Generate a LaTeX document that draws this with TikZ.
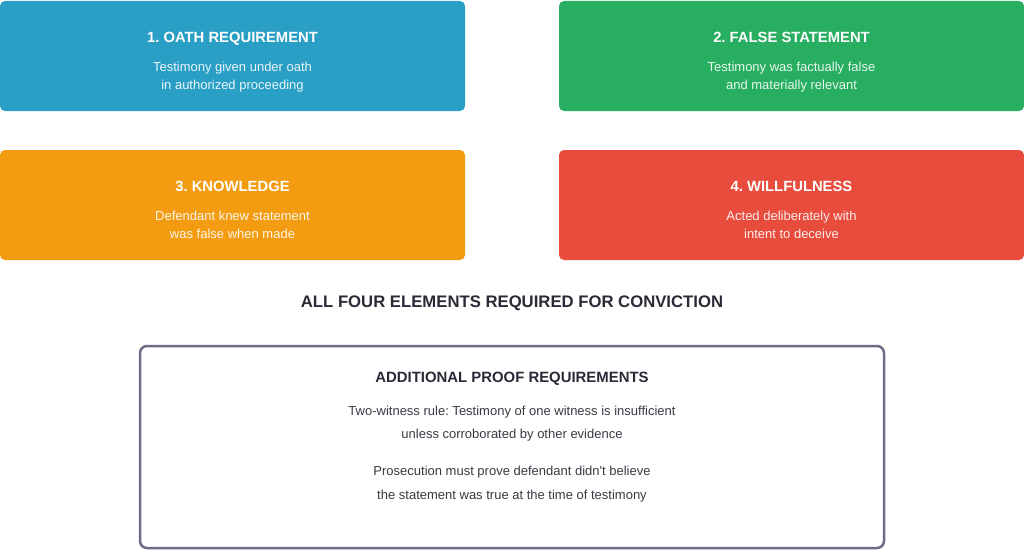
\documentclass[tikz,border=0pt]{standalone}
\usepackage{fontspec}
\setmainfont{Liberation Sans}
\usepackage{xcolor}
\usetikzlibrary{calc}
\definecolor{blue1}{HTML}{2A9FC6}
\definecolor{green1}{HTML}{27AE60}
\definecolor{orange1}{HTML}{F39C12}
\definecolor{red1}{HTML}{E74C3C}
\definecolor{gray1}{HTML}{6C6E88}
\definecolor{ink1}{HTML}{2A2A36}
\definecolor{ink2}{HTML}{3A3A44}
\tikzset{
  elem/.style={draw=none,rounded corners=5pt,minimum height=110pt,inner sep=0pt},
  elemtitle/.style={anchor=base,inner sep=0pt,text=white,font=\fontsize{14.8}{16}\selectfont\bfseries},
  elemtext/.style={anchor=base,inner sep=0pt,text=white,text opacity=0.9,font=\fontsize{13}{15}\selectfont},
  prooftext/.style={anchor=base,inner sep=0pt,text=ink2,font=\fontsize{13}{15}\selectfont}
}
\frenchspacing
\begin{document}
\begin{tikzpicture}[x=1pt,y=-1pt]

\useasboundingbox (0,0) rectangle (1024,551);

\node[elem,fill=blue1,minimum width=465pt] (oath) at (232.5,56) {};
\node[elem,fill=green1,minimum width=465pt] (false) at (791.5,56) {};
\node[elem,fill=orange1,minimum width=465pt] (know) at (232.5,205) {};
\node[elem,fill=red1,minimum width=465pt] (will) at (791.5,205) {};

\node[elemtitle] (oathT) at (232.5,42) {1. OATH REQUIREMENT};
\node[elemtext] (oathA) at (232.5,71) {Testimony given under oath};
\node[elemtext] (oathB) at (232.5,89) {in authorized proceeding};

\node[elemtitle] (falseT) at (791.5,42) {2. FALSE STATEMENT};
\node[elemtext] (falseA) at (791.5,71) {Testimony was factually false};
\node[elemtext] (falseB) at (791.5,89) {and materially relevant};

\node[elemtitle] (knowT) at (232.5,191) {3. KNOWLEDGE};
\node[elemtext] (knowA) at (232.5,220) {Defendant knew statement};
\node[elemtext] (knowB) at (232.5,238) {was false when made};

\node[elemtitle] (willT) at (791.5,191) {4. WILLFULNESS};
\node[elemtext] (willA) at (791.5,220) {Acted deliberately with};
\node[elemtext] (willB) at (791.5,238) {intent to deceive};

\node[anchor=base,inner sep=0pt,text=ink1,font=\fontsize{16.7}{18}\selectfont\bfseries] (all) at (512,307) {ALL FOUR ELEMENTS REQUIRED FOR CONVICTION};

\draw[gray1,line width=2.5pt,rounded corners=7pt,fill=white] (140,346) rectangle (884,548);

\node[anchor=base,inner sep=0pt,text=ink1,font=\fontsize{14.9}{16}\selectfont\bfseries] (proof) at (512,382) {ADDITIONAL PROOF REQUIREMENTS};
\node[prooftext] (proofA) at (512,415) {Two-witness rule: Testimony of one witness is insufficient};
\node[prooftext] (proofB) at (512,438) {unless corroborated by other evidence};
\node[prooftext] (proofC) at (512,475) {Prosecution must prove defendant didn\textquotesingle t believe};
\node[prooftext] (proofD) at (512,499) {the statement was true at the time of testimony};

\end{tikzpicture}
\end{document}
